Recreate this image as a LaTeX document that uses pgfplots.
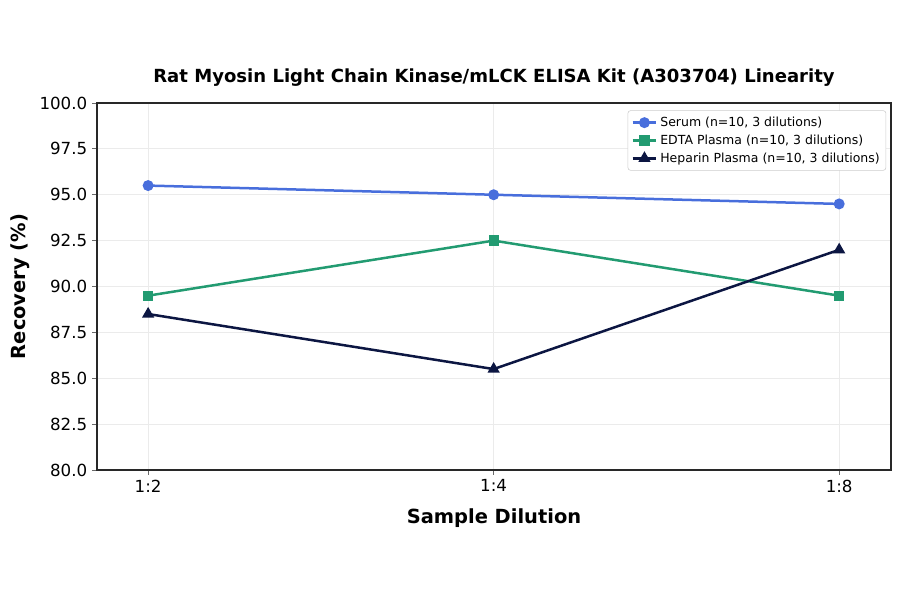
\documentclass[border=0pt]{standalone}
\usepackage{fontspec}
\setmainfont{DejaVu Sans}
\usepackage{pgfplots}
\pgfplotsset{compat=1.18}

\definecolor{serum}{RGB}{72,110,220}
\definecolor{edta}{RGB}{34,155,113}
\definecolor{hep}{RGB}{12,22,66}
\definecolor{spine}{RGB}{40,40,40}

\begin{document}
\begin{tikzpicture}[x=0.72pt,y=0.72pt]
% canvas of the reference: 900 x 594 px, axis box at (97..891, 103..470)
\path[use as bounding box] (-97,-124) rectangle (803,470);
\begin{axis}[
  at={(0,0)}, anchor=south west,
  scale only axis,
  width=571.68pt, height=264.24pt,
  xmin=-0.148, xmax=2.15,
  ymin=80, ymax=100,
  xtick={0,1,2},
  xticklabels={1:2,1:4,1:8},
  ytick={80,82.5,...,100},
  yticklabel style={/pgf/number format/.cd,fixed,fixed zerofill,precision=1},
  /pgf/number format/assume math mode=true,
  tick label style={font=\fontsize{12}{14}\selectfont},
  tick align=outside,
  tick pos=left,
  major tick length=3.5pt,
  every tick/.style={spine!70,line width=0.6pt},
  axis line style={spine,line width=1pt},
  grid=major,
  major grid style={black!8,line width=0.6pt},
  title={Rat Myosin Light Chain Kinase/mLCK ELISA Kit (A303704) Linearity},
  title style={font=\bfseries\fontsize{13}{15}\selectfont,yshift=2.5pt},
  xlabel={Sample Dilution},
  ylabel={Recovery (\%)},
  label style={font=\bfseries\fontsize{14}{16}\selectfont},
  xlabel style={yshift=-5pt},
  legend style={at={(0.994,0.98)},anchor=north east,
    font=\fontsize{9}{11}\selectfont,draw=black!20,rounded corners=2pt,
    cells={anchor=west},row sep=0.5pt,inner sep=2.5pt},
]
\addplot[color=serum,line width=1.8pt,mark=*,mark size=3pt] coordinates {
  (0,95.5) (1,95.0) (2,94.5)
};
\addlegendentry{Serum (n=10, 3 dilutions)}
\addplot[color=edta,line width=1.8pt,mark=square*,mark size=2.8pt] coordinates {
  (0,89.5) (1,92.5) (2,89.5)
};
\addlegendentry{EDTA Plasma (n=10, 3 dilutions)}
\addplot[color=hep,line width=1.8pt,mark=triangle*,mark size=3.3pt] coordinates {
  (0,88.5) (1,85.5) (2,92.0)
};
\addlegendentry{Heparin Plasma (n=10, 3 dilutions)}
\end{axis}
\end{tikzpicture}
\end{document}
